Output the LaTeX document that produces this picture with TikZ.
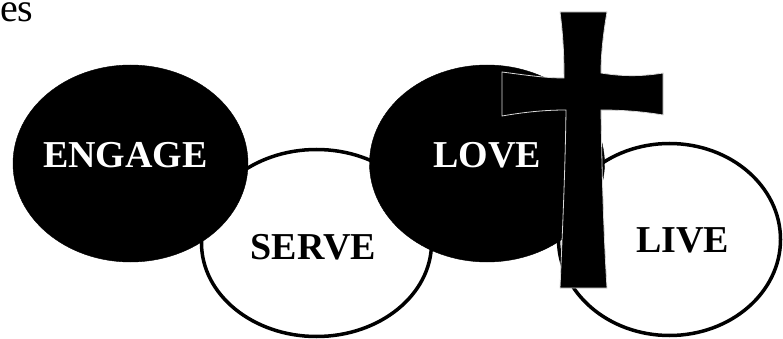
\documentclass[tikz,border=0pt]{standalone}
\usepackage{fontspec}
\setmainfont{Liberation Serif}
\usetikzlibrary{positioning, calc, shapes.geometric}
\tikzset{
    blackoval/.style={
        ellipse,
        fill=black,
        draw=black,
        inner sep=0pt
    },
    whiteoval/.style={
        ellipse,
        fill=white,
        draw=black,
        line width=3.5pt,
        inner sep=0pt
    },
    word/.style={
        font=\fontsize{38}{40}\selectfont\bfseries,
        inner sep=0pt
    },
    crossshape/.style={
        fill=black,
        draw=gray!30,
        line width=0.8pt
    }
}

\begin{document}
\begin{tikzpicture}[x=1pt, y=-1pt]

\useasboundingbox (0,0) rectangle (783,339);

% =========================
% Testo in alto
% =========================
\node[anchor=base west, inner sep=0pt, font=\fontsize{40}{42}\selectfont] (cut) at (0,22) {es};

% =========================
% Ellissi bianche (sotto)
% =========================
\node[whiteoval, minimum width=230pt, minimum height=187pt] (serve) at (316.5,243) {};
\node[whiteoval, minimum width=222pt, minimum height=192pt] (live) at (669.5,239.5) {};

% =========================
% Ellissi nere (sopra)
% =========================
\node[blackoval, minimum width=235pt, minimum height=197pt] (engage) at (130.5,163.5) {};
\node[blackoval, minimum width=235pt, minimum height=197pt] (love) at (487,163.5) {};

% =========================
% Scritte
% =========================
\node[word, text=white] (engagetxt) at ($(engage.center)+(-5,-8)$) {ENGAGE};
\node[word] (servetxt) at ($(serve.center)+(-3,4)$) {SERVE};
\node[word, text=white] (lovetxt) at ($(love.center)+(0,-8)$) {LOVE};
\node[word] (livetxt) at ($(live.center)+(13,1)$) {LIVE};

% =========================
% Croce
% =========================
\draw[crossshape]
    (560,12) -- (607,12)
    .. controls (603,35) and (601,55) .. (601,73)
    .. controls (625,77) and (645,76) .. (663,73)
    -- (663,115)
    .. controls (645,112) and (625,110) .. (601,110)
    .. controls (602,180) and (604,240) .. (607,288)
    -- (560,288)
    .. controls (562,240) and (565,180) .. (566,110)
    .. controls (545,110) and (525,112) .. (502,116)
    -- (502,72)
    .. controls (525,75) and (545,78) .. (564,78)
    .. controls (564,55) and (563,35) .. cycle;

\end{tikzpicture}
\end{document}
